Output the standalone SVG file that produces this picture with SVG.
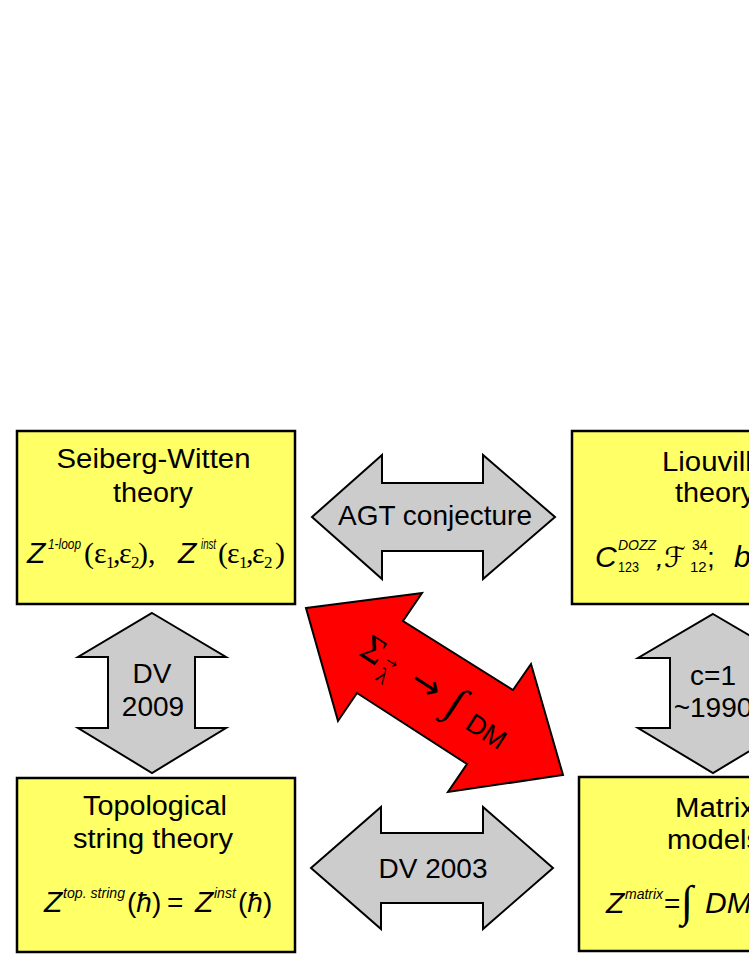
<svg xmlns="http://www.w3.org/2000/svg" width="749" height="969" viewBox="0 0 749 969">
<style>
.box{fill:#FFFF66;stroke:#000;stroke-width:2.5}
.ga{fill:#CCCCCC;stroke:#000;stroke-width:2}
.ra{fill:#FF0000;stroke:#000;stroke-width:2}
text{font-family:"Liberation Sans",Arial,sans-serif;fill:#000}
.t{font-size:27px}
.a{font-size:28px}
.f{font-size:28px}
.z{font-size:30px;font-style:italic}
.i{font-style:italic}
.sup{font-size:14px;font-style:italic}
.sr{font-family:"Liberation Serif","Times New Roman",serif}
.fs{font-size:30px}
.sub{font-size:17px}
</style>
<rect width="749" height="969" fill="#FFFFFF"/>
<g id="connectors">
<polygon id="agt" class="ga" points="312,517 382,455 382,483 483,483 483,455 555,517 483,579 483,551 382,551 382,579"/>
<polygon id="dv2003" class="ga" points="311,868 381,807 381,833 483,833 483,807 553,868 483,929 483,903 381,903 381,929"/>
<polygon id="dv2009" class="ga" points="152,613 226,657 195,657 195,728 226,728 152,773 78,728 108,728 108,657 78,657"/>
<polygon id="c1" class="ga" points="713,614 788,658 756,658 756,728 788,728 713,773 638,728 670,728 670,658 638,658"/>
<polygon id="red" class="ra" points="306,608 422,593 403,621 513,690 531,664 563,775 448,792 467,764 357,693 338,721"/>
<text class="a" x="435" y="525" text-anchor="middle">AGT conjecture</text>
<text class="a" x="433" y="878" text-anchor="middle">DV 2003</text>
<text class="a" x="152" y="683" text-anchor="middle">DV</text>
<text class="a" x="153" y="716" text-anchor="middle">2009</text>
<text class="a" x="713" y="685" text-anchor="middle">c=1</text>
<text class="a" x="713" y="717" text-anchor="middle">~1990</text>
<g transform="translate(380,657) rotate(33)">
<text class="sr" x="-20" y="10" font-size="38">Σ</text>
<text x="7" y="3" font-size="14" style="font-family:'DejaVu Sans',sans-serif">→</text>
<text class="sr" x="7" y="22" font-size="22">λ</text>
<text x="38.5" y="9.7" font-size="36" style="font-family:'DejaVu Sans',sans-serif">→</text>
<text class="sr" x="82.5" y="11" font-size="44">∫</text>
<text x="108.7" y="13.7" font-size="27">DM</text>
</g>
</g>
<g id="seiberg-witten">
<rect class="box" x="17" y="431" width="278" height="173"/>
<text class="t" x="153.5" y="468" text-anchor="middle" textLength="194" lengthAdjust="spacingAndGlyphs">Seiberg-Witten</text>
<text class="t" x="153" y="502" text-anchor="middle" textLength="80" lengthAdjust="spacingAndGlyphs">theory</text>
<text class="z" x="27" y="563">Z</text>
<text class="sup" x="48" y="549" textLength="33" lengthAdjust="spacingAndGlyphs">1-loop</text>
<text class="fs sr" y="563"><tspan x="84">(</tspan><tspan x="94">ε</tspan><tspan x="113">,</tspan><tspan x="119">ε</tspan><tspan x="138">),</tspan></text>
<text class="sub sr" y="568"><tspan x="106">1</tspan><tspan x="131">2</tspan></text>
<text class="z" x="178" y="563">Z</text>
<text class="sup" x="201" y="549" font-size="13" textLength="15" lengthAdjust="spacingAndGlyphs">inst</text>
<text class="fs sr" y="563"><tspan x="218">(</tspan><tspan x="227">ε</tspan><tspan x="246">,</tspan><tspan x="252">ε</tspan><tspan x="275">)</tspan></text>
<text class="sub sr" y="568"><tspan x="239">1</tspan><tspan x="264">2</tspan></text>
</g>
<g id="liouville">
<rect class="box" x="572" y="431" width="278" height="173"/>
<text class="t" x="662" y="471" textLength="106" lengthAdjust="spacingAndGlyphs">Liouville</text>
<text class="t" x="675" y="502" textLength="80" lengthAdjust="spacingAndGlyphs">theory</text>
<text class="z" x="595" y="567">C</text>
<text class="sup" x="618" y="550">DOZZ</text>
<text x="618" y="572" font-size="15" textLength="21" lengthAdjust="spacingAndGlyphs">123</text>
<text class="f i" x="656" y="567">,</text>
<text x="664" y="567" font-size="28" style="font-family:'DejaVu Serif','DejaVu Sans',serif;font-style:italic">ℱ</text>
<text x="692" y="550" font-size="14">34</text>
<text x="690" y="572" font-size="15">12</text>
<text class="f" x="707" y="567">;</text>
<text class="z" x="734" y="567">b</text>
</g>
<g id="topological">
<rect class="box" x="17" y="778" width="278" height="174"/>
<text class="t" x="155" y="815" text-anchor="middle" textLength="144" lengthAdjust="spacingAndGlyphs">Topological</text>
<text class="t" x="153" y="848" text-anchor="middle" textLength="160" lengthAdjust="spacingAndGlyphs">string theory</text>
<text class="z" x="44" y="912">Z</text>
<text class="sup" x="63" y="898" textLength="62" lengthAdjust="spacingAndGlyphs">top. string</text>
<text class="f" x="127" y="912">(<tspan class="i">ħ</tspan>)</text>
<text class="f" x="167" y="912">=</text>
<text class="z" x="195" y="912">Z</text>
<text class="sup" x="214" y="898">inst</text>
<text class="f" x="238" y="912">(<tspan class="i">ħ</tspan>)</text>
</g>
<g id="matrix">
<rect class="box" x="579" y="777" width="278" height="174"/>
<text class="t" x="675" y="817" textLength="80" lengthAdjust="spacingAndGlyphs">Matrix</text>
<text class="t" x="667" y="849" textLength="94" lengthAdjust="spacingAndGlyphs">models</text>
<text class="z" x="606" y="913">Z</text>
<text class="sup" x="625" y="899">matrix</text>
<text class="f" x="664" y="913">=</text>
<text class="sr" x="681" y="916" font-size="44">∫</text>
<text class="z" x="705" y="913">DM</text>
</g>
</svg>
